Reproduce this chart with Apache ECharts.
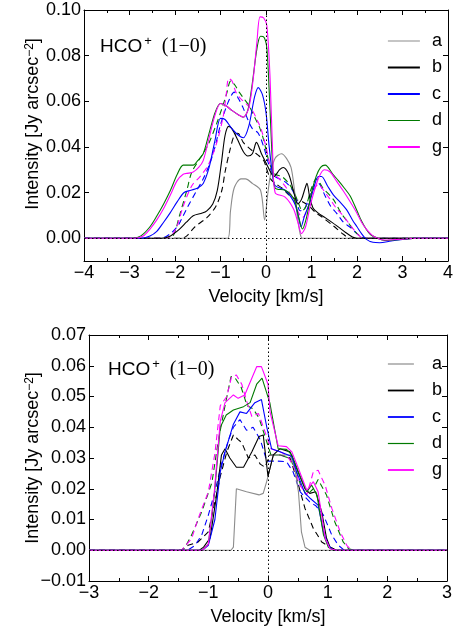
<!DOCTYPE html>
<html><head><meta charset="utf-8">
<script src="https://cdn.jsdelivr.net/npm/echarts@6/dist/echarts.min.js"></script>
<style>html,body{margin:0;padding:0;background:#fff}#c{width:458px;height:633px}</style>
</head><body><div id="c"></div>
<script>
// ---------- Data (velocity km/s, intensity Jy arcsec^-2) ----------
var legendNames = ['a','b','c','d','g'];
var topXTicks = [-4,-3,-2,-1,0,1,2,3,4];
var topYTicks = [0,0.02,0.04,0.06,0.08,0.10];
var botXTicks = [-3,-2,-1,0,1,2,3];
var botYTicks = [-0.01,0,0.01,0.02,0.03,0.04,0.05,0.06,0.07];

// top panel, solid
var tA = [[-4,0],[-0.84,0],[-0.78,0.012],[-0.7,0.022],[-0.55,0.026],[-0.45,0.026],[-0.3,0.024],[-0.12,0.021],[-0.03,0.008],[0.03,0.018],[0.1,0.028],[0.2,0.035],[0.34,0.037],[0.45,0.035],[0.55,0.031],[0.62,0.022],[0.68,0.011],[0.75,0.002],[0.8,0],[4,0]];
var tB = [[-4,0],[-2.3,0],[-2.1,0.001],[-1.9,0.004],[-1.75,0.007],[-1.6,0.0098],[-1.4,0.011],[-1.3,0.012],[-1.17,0.015],[-1.07,0.021],[-0.98,0.033],[-0.9,0.045],[-0.82,0.049],[-0.75,0.048],[-0.62,0.043],[-0.5,0.038],[-0.4,0.036],[-0.3,0.037],[-0.21,0.042],[-0.1,0.037],[0.0,0.033],[0.1,0.029],[0.17,0.027],[0.3,0.030],[0.38,0.031],[0.5,0.028],[0.6,0.021],[0.7,0.015],[0.78,0.017],[0.86,0.022],[0.9,0.024],[0.96,0.018],[1.04,0.013],[1.15,0.011],[1.3,0.009],[1.55,0.0055],[1.75,0.0025],[1.9,0.0005],[2.0,0],[4,0]];
var tC = [[-4,0],[-2.75,0],[-2.55,0.001],[-2.4,0.003],[-2.25,0.007],[-2.11,0.011],[-1.95,0.016],[-1.8,0.020],[-1.65,0.021],[-1.5,0.022],[-1.38,0.024],[-1.25,0.031],[-1.12,0.043],[-1.0,0.0525],[-0.9,0.052],[-0.75,0.048],[-0.6,0.045],[-0.5,0.044],[-0.38,0.049],[-0.25,0.062],[-0.17,0.066],[-0.08,0.063],[0.0,0.055],[0.07,0.04],[0.15,0.027],[0.2,0.023],[0.42,0.021],[0.55,0.018],[0.64,0.0147],[0.72,0.009],[0.77,0.005],[0.85,0.010],[0.95,0.015],[1.05,0.022],[1.15,0.027],[1.22,0.027],[1.35,0.023],[1.48,0.019],[1.62,0.016],[1.77,0.0125],[1.9,0.008],[2.0,0.005],[2.1,0.002],[2.2,-0.0004],[2.35,-0.0018],[2.5,-0.002],[2.75,-0.0012],[3.0,-0.0006],[3.3,0],[4,0]];
var tD = [[-4,0],[-2.95,0],[-2.75,0.001],[-2.55,0.005],[-2.4,0.0097],[-2.25,0.015],[-2.1,0.021],[-1.95,0.028],[-1.82,0.032],[-1.7,0.032],[-1.6,0.032],[-1.5,0.034],[-1.38,0.037],[-1.25,0.046],[-1.12,0.055],[-1.0,0.059],[-0.88,0.058],[-0.75,0.056],[-0.6,0.054],[-0.5,0.053],[-0.4,0.056],[-0.3,0.068],[-0.2,0.083],[-0.12,0.0885],[-0.04,0.088],[0.02,0.083],[0.08,0.06],[0.15,0.03],[0.2,0.022],[0.42,0.021],[0.55,0.019],[0.64,0.016],[0.72,0.009],[0.8,0.004],[0.89,0.009],[1.0,0.020],[1.1,0.027],[1.2,0.031],[1.3,0.032],[1.47,0.028],[1.6,0.025],[1.72,0.022],[1.85,0.0185],[2.0,0.012],[2.1,0.0075],[2.2,0.004],[2.3,0.0015],[2.45,0],[2.6,-0.001],[3.0,-0.0005],[3.3,0],[4,0]];
var tG = [[-4,0],[-2.9,0],[-2.7,0.001],[-2.55,0.004],[-2.4,0.008],[-2.25,0.013],[-2.1,0.019],[-1.96,0.025],[-1.82,0.028],[-1.7,0.0285],[-1.6,0.029],[-1.48,0.031],[-1.38,0.034],[-1.25,0.044],[-1.12,0.054],[-1.0,0.059],[-0.88,0.058],[-0.75,0.056],[-0.6,0.054],[-0.5,0.053],[-0.38,0.057],[-0.28,0.070],[-0.2,0.086],[-0.13,0.097],[-0.05,0.0965],[0.02,0.093],[0.09,0.07],[0.15,0.035],[0.2,0.020],[0.42,0.018],[0.6,0.013],[0.7,0.007],[0.78,0.002],[0.87,0.005],[0.97,0.014],[1.05,0.020],[1.17,0.027],[1.28,0.030],[1.41,0.029],[1.55,0.025],[1.7,0.0207],[1.85,0.016],[1.99,0.0113],[2.1,0.007],[2.21,0.0039],[2.35,0.001],[2.45,0],[2.6,-0.0008],[3.0,-0.0005],[3.3,0],[4,0]];
// top panel, dashed
var tBd = [[-4,0],[-1.85,0],[-1.74,0.001],[-1.56,0.005],[-1.3,0.009],[-1.1,0.014],[-0.97,0.021],[-0.9,0.029],[-0.8,0.038],[-0.7,0.045],[-0.62,0.046],[-0.5,0.042],[-0.4,0.040],[-0.28,0.038],[-0.15,0.036],[-0.05,0.034],[0.02,0.030],[0.1,0.026],[0.2,0.024],[0.35,0.022],[0.5,0.019],[0.65,0.017],[0.8,0.016],[0.95,0.014],[1.1,0.011],[1.2,0.0097],[1.48,0.0054],[1.7,0.0017],[1.85,0],[4,0]];
var tCd = [[-4,0],[-2.3,0],[-2.1,0.002],[-1.95,0.005],[-1.89,0.007],[-1.74,0.013],[-1.52,0.021],[-1.38,0.026],[-1.23,0.033],[-1.12,0.040],[-1.01,0.049],[-0.9,0.056],[-0.8,0.061],[-0.7,0.064],[-0.6,0.061],[-0.5,0.057],[-0.4,0.052],[-0.3,0.048],[-0.17,0.046],[-0.05,0.040],[0.05,0.033],[0.13,0.029],[0.2,0.027],[0.4,0.025],[0.55,0.022],[0.65,0.018],[0.75,0.012],[0.85,0.013],[0.95,0.018],[1.05,0.023],[1.15,0.024],[1.3,0.0185],[1.42,0.014],[1.55,0.011],[1.7,0.007],[1.85,0.0048],[2.0,0.002],[2.1,0.0005],[2.2,0],[4,0]];
var tDd = [[-4,0],[-2.2,0],[-2.04,0.001],[-1.9,0.01],[-1.74,0.021],[-1.63,0.029],[-1.45,0.035],[-1.27,0.041],[-1.08,0.0505],[-0.95,0.058],[-0.87,0.063],[-0.77,0.069],[-0.68,0.067],[-0.59,0.064],[-0.48,0.061],[-0.37,0.058],[-0.25,0.053],[-0.15,0.049],[-0.05,0.043],[0.02,0.037],[0.11,0.031],[0.2,0.028],[0.35,0.027],[0.5,0.024],[0.62,0.020],[0.72,0.015],[0.8,0.012],[0.88,0.014],[1.0,0.022],[1.11,0.026],[1.25,0.022],[1.48,0.017],[1.65,0.011],[1.8,0.007],[1.95,0.003],[2.1,0.0005],[2.2,0],[4,0]];
var tGd = [[-4,0],[-2.2,0],[-2.11,0.0003],[-1.96,0.005],[-1.82,0.014],[-1.63,0.023],[-1.45,0.027],[-1.27,0.032],[-1.08,0.042],[-0.94,0.0534],[-0.88,0.062],[-0.82,0.070],[-0.75,0.069],[-0.66,0.064],[-0.55,0.061],[-0.44,0.059],[-0.29,0.0556],[-0.2,0.052],[-0.11,0.048],[0.0,0.040],[0.08,0.033],[0.15,0.029],[0.29,0.026],[0.45,0.022],[0.6,0.017],[0.72,0.011],[0.8,0.009],[0.9,0.012],[1.0,0.019],[1.15,0.0236],[1.3,0.020],[1.41,0.017],[1.55,0.013],[1.7,0.0097],[1.92,0.004],[2.05,0.001],[2.15,0],[4,0]];

// bottom panel, solid
var bA = [[-3,0],[-0.62,0],[-0.58,0.001],[-0.53,0.020],[-0.36,0.019],[-0.15,0.018],[-0.08,0.0185],[-0.02,0.0225],[0.09,0.031],[0.23,0.031],[0.37,0.031],[0.45,0.0266],[0.51,0.019],[0.56,0.006],[0.62,0.001],[0.7,0],[3,0]];
var bB = [[-3,0],[-1.15,0],[-1.08,0.001],[-0.97,0.004],[-0.86,0.018],[-0.78,0.031],[-0.72,0.033],[-0.64,0.030],[-0.53,0.027],[-0.41,0.027],[-0.27,0.032],[-0.15,0.037],[-0.08,0.0375],[0.0,0.024],[0.09,0.031],[0.2,0.033],[0.37,0.032],[0.48,0.0266],[0.62,0.020],[0.7,0.0185],[0.8,0.019],[0.9,0.0125],[0.98,0.004],[1.04,0.001],[1.15,0],[3,0]];
var bC = [[-3,0],[-1.1,0],[-1.0,0.0016],[-0.89,0.010],[-0.8,0.0255],[-0.72,0.032],[-0.58,0.041],[-0.47,0.045],[-0.36,0.0445],[-0.22,0.048],[-0.11,0.049],[-0.02,0.040],[0.06,0.033],[0.2,0.032],[0.4,0.0305],[0.48,0.0255],[0.62,0.0185],[0.7,0.017],[0.84,0.0147],[0.93,0.006],[1.01,0.0016],[1.1,0],[3,0]];
var bD = [[-3,0],[-1.1,0],[-1.0,0.002],[-0.9,0.018],[-0.8,0.040],[-0.7,0.044],[-0.58,0.0456],[-0.41,0.0467],[-0.3,0.048],[-0.19,0.054],[-0.1,0.056],[0.03,0.048],[0.17,0.033],[0.31,0.0328],[0.4,0.031],[0.51,0.0255],[0.65,0.019],[0.73,0.0212],[0.82,0.018],[0.93,0.005],[1.01,0.001],[1.1,0],[3,0]];
var bG = [[-3,0],[-1.1,0],[-1.0,0.002],[-0.9,0.019],[-0.8,0.042],[-0.72,0.048],[-0.58,0.0505],[-0.5,0.0494],[-0.39,0.0505],[-0.19,0.0597],[-0.11,0.0597],[0.0,0.054],[0.034,0.045],[0.17,0.034],[0.31,0.0337],[0.4,0.032],[0.51,0.0266],[0.65,0.0195],[0.76,0.0223],[0.84,0.019],[0.96,0.0038],[1.04,0.0005],[1.15,0],[3,0]];
// bottom panel, dashed
var bBd = [[-3,0],[-1.45,0],[-1.34,0.0016],[-1.17,0.0027],[-1.0,0.006],[-0.89,0.0157],[-0.8,0.024],[-0.69,0.032],[-0.58,0.0375],[-0.5,0.036],[-0.44,0.035],[-0.33,0.030],[-0.22,0.031],[-0.13,0.028],[-0.05,0.027],[0.03,0.031],[0.2,0.031],[0.37,0.030],[0.48,0.0233],[0.62,0.0136],[0.76,0.0071],[0.9,0.0027],[1.04,0.001],[1.15,0],[3,0]];
var bCd = [[-3,0],[-1.35,0],[-1.22,0.0016],[-1.11,0.005],[-1.0,0.0114],[-0.89,0.019],[-0.78,0.028],[-0.66,0.036],[-0.58,0.040],[-0.47,0.0425],[-0.36,0.039],[-0.25,0.040],[-0.13,0.036],[-0.02,0.029],[0.15,0.029],[0.31,0.0288],[0.42,0.0255],[0.54,0.019],[0.7,0.0157],[0.8,0.0145],[0.93,0.0114],[1.07,0.0049],[1.18,0.0016],[1.28,0],[3,0]];
var bDd = [[-3,0],[-1.45,0],[-1.39,0.001],[-1.28,0.005],[-1.11,0.0125],[-0.94,0.022],[-0.83,0.036],[-0.72,0.047],[-0.62,0.0565],[-0.55,0.056],[-0.45,0.053],[-0.35,0.047],[-0.25,0.046],[-0.15,0.043],[-0.05,0.037],[0.05,0.031],[0.2,0.031],[0.35,0.030],[0.45,0.027],[0.55,0.021],[0.65,0.018],[0.76,0.020],[0.84,0.023],[0.98,0.018],[1.12,0.0092],[1.26,0.0027],[1.35,0.0005],[1.45,0],[3,0]];
var bGd = [[-3,0],[-1.45,0],[-1.42,0.0005],[-1.28,0.0038],[-1.17,0.0103],[-1.0,0.019],[-0.89,0.0315],[-0.8,0.047],[-0.69,0.050],[-0.61,0.0565],[-0.53,0.057],[-0.44,0.054],[-0.35,0.048],[-0.27,0.0435],[-0.16,0.0445],[-0.05,0.0385],[0.05,0.033],[0.2,0.032],[0.31,0.031],[0.42,0.0277],[0.54,0.021],[0.65,0.018],[0.76,0.0255],[0.84,0.026],[0.96,0.021],[1.07,0.0136],[1.21,0.006],[1.32,0.0016],[1.4,0],[3,0]];

// ---------- Styling ----------
var FONT = "'Liberation Sans', Arial, sans-serif";
var COL = {a:'#8c8c8c', b:'#000000', c:'#0000ff', d:'#007a00', g:'#ff00ff'};
var FS = 18;
var Y_TITLE = 'Intensity [Jy arcsec{s|\u22122}]';

function mkSeries(name, data, color, dashed, axisIdx, smooth) {
  return {
    type:'line', name:name, data:data, xAxisIndex:axisIdx, yAxisIndex:axisIdx,
    symbol:'none', showSymbol:false, smooth: smooth, silent:true, animation:false,
    lineStyle:{color:color, width:1.1, type: dashed ? [6,4] : 'solid'},
    itemStyle:{color:color}
  };
}
function markSeries(axisIdx) {
  return {
    type:'line', name:'zero'+axisIdx, data:[], xAxisIndex:axisIdx, yAxisIndex:axisIdx,
    symbol:'none', silent:true, animation:false,
    markLine:{silent:true, symbol:['none','none'], label:{show:false},
      lineStyle:{color:'#000', width:1, type:[1.5,2.5]},
      data:[{yAxis:0},{xAxis:0}]}
  };
}
function xAx(grid, min, max, pos, labels) {
  return {type:'value', gridIndex:grid, min:min, max:max, interval:1, position:pos,
    axisLine:{show:true, onZero:false, lineStyle:{color:'#000', width:1}},
    axisTick:{show:true, inside:true, length:5, lineStyle:{color:'#000'}},
    minorTick:{show:true, splitNumber:2, length:3, lineStyle:{color:'#000'}},
    splitLine:{show:false},
    axisLabel:{show:labels, color:'#000', fontFamily:FONT, fontSize:FS, margin:3,
      formatter:function(v){return (v<0?'\u2212':'')+Math.abs(v);}},
    name: labels ? 'Velocity [km/s]' : '', nameLocation:'middle', nameGap:27,
    nameTextStyle:{color:'#000', fontFamily:FONT, fontSize:FS}
  };
}
function yAx(grid, min, max, interval, ticks, pos, labels) {
  return {type:'value', gridIndex:grid, min:min, max:max, interval:interval, position:pos,
    axisLine:{show:true, onZero:false, lineStyle:{color:'#000', width:1}},
    axisTick:{show:true, inside:true, length:5, customValues:ticks, lineStyle:{color:'#000'}},
    splitLine:{show:false},
    axisLabel:{show:labels, customValues:ticks, color:'#000', fontFamily:FONT, fontSize:FS, margin:3,
      formatter:function(v){var s=Math.abs(v).toFixed(2); return (v<-1e-9?'\u2212':'')+s;}}
  };
}
function yTitle(x, y) {
  return {type:'text', x:x, y:y, rotation:Math.PI/2, silent:true,
    style:{text:Y_TITLE, fill:'#000', font:FS+'px '+FONT, align:'center', verticalAlign:'middle',
      rich:{s:{fontFamily:FONT, fontSize:12, verticalAlign:'top', lineHeight:12, fill:'#000'}}}};
}
function titleRich(left, top) {
  return {text:'{h|HCO}{p|+}{sp|  }{m|(1\u22120)}', left:left, top:top,
    textStyle:{fontWeight:'normal', rich:{
      h:{fontFamily:FONT, fontSize:FS+1, fontWeight:'normal', color:'#000', lineHeight:24},
      p:{fontFamily:FONT, fontSize:13, fontWeight:'normal', color:'#000', verticalAlign:'top', lineHeight:13, padding:[0,0,0,2]},
      sp:{fontSize:FS, lineHeight:24},
      m:{fontFamily:"'Liberation Serif','DejaVu Serif',serif", fontSize:FS+2, fontWeight:'normal', color:'#000', lineHeight:24}
    }}};
}
function legendOf(top, w, padL) {
  return {orient:'vertical', left:382, top:top, itemWidth:w, itemHeight:16, itemGap:8.5,
    selectedMode:false,
    itemStyle:{opacity:0, borderWidth:0},
    data: legendNames.map(function(n){ return {name:n, itemStyle:{opacity:0, borderWidth:0},
      lineStyle:{width:(n==='a'||n==='d')?1.2:1.8}}; }),
    textStyle:{color:'#000', fontFamily:FONT, fontSize:FS, lineHeight:16, padding:[0,0,0,padL]}};
}

var series = [];
series.push(markSeries(0));
series.push(mkSeries('b ', tBd, COL.b, true, 0, 0.3));
series.push(mkSeries('c ', tCd, COL.c, true, 0, 0.3));
series.push(mkSeries('d ', tDd, COL.d, true, 0, 0.3));
series.push(mkSeries('g ', tGd, COL.g, true, 0, 0.3));
series.push(mkSeries('a', tA, COL.a, false, 0, 0.3));
series.push(mkSeries('b', tB, COL.b, false, 0, 0.3));
series.push(mkSeries('c', tC, COL.c, false, 0, 0.3));
series.push(mkSeries('d', tD, COL.d, false, 0, 0.3));
series.push(mkSeries('g', tG, COL.g, false, 0, 0.3));
series.push(markSeries(2));
series.push(mkSeries('b  ', bBd, COL.b, true, 2, false));
series.push(mkSeries('c  ', bCd, COL.c, true, 2, false));
series.push(mkSeries('d  ', bDd, COL.d, true, 2, false));
series.push(mkSeries('g  ', bGd, COL.g, true, 2, false));
series.push(mkSeries('a', bA, COL.a, false, 2, false));
series.push(mkSeries('b', bB, COL.b, false, 2, false));
series.push(mkSeries('c', bC, COL.c, false, 2, false));
series.push(mkSeries('d', bD, COL.d, false, 2, false));
series.push(mkSeries('g', bG, COL.g, false, 2, false));

var option = {
  animation:false,
  backgroundColor:'#fff',
  title:[titleRich(95, 30), titleRich(103, 353)],
  legend:[legendOf(27, 32, 7), legendOf(350, 26, 13)],
  graphic:[yTitle(33, 124), yTitle(33, 458)],
  grid:[
    {left:84, top:10, width:364, height:251, show:false},
    {left:89, top:335, width:358, height:246, show:false}
  ],
  xAxis:[
    xAx(0,-4,4,'bottom',true), xAx(0,-4,4,'top',false),
    xAx(1,-3,3,'bottom',true), xAx(1,-3,3,'top',false)
  ],
  yAxis:[
    yAx(0,-0.01,0.10,0.01,topYTicks,'left',true), yAx(0,-0.01,0.10,0.01,topYTicks,'right',false),
    yAx(1,-0.01,0.07,0.01,botYTicks,'left',true), yAx(1,-0.01,0.07,0.01,botYTicks,'right',false)
  ],
  series: series
};
var chart = echarts.init(document.getElementById('c'), null, {renderer:'canvas'});
chart.setOption(option);
</script></body></html>
